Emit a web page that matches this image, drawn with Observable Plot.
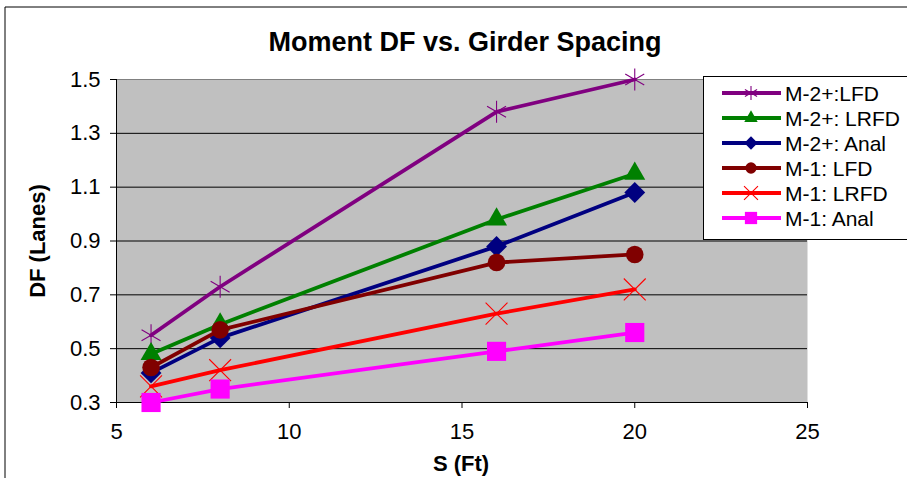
<!DOCTYPE html>
<html>
<head>
<meta charset="utf-8">
<script src="https://cdn.jsdelivr.net/npm/d3@7"></script>
<script src="https://cdn.jsdelivr.net/npm/@observablehq/plot@0.6"></script>
<style>
  html, body { margin: 0; padding: 0; background: #fff; }
  #chart { width: 907px; height: 478px; }
</style>
</head>
<body>
<div id="chart"></div>
<script>
// Girder spacing S (ft) at which each distribution factor was computed
const spacing = [6, 8, 16, 20];

// Moment distribution factors (lanes), one array per method
const seriesNames = ["M-2+:LFD", "M-2+: LRFD", "M-2+: Anal", "M-1: LFD", "M-1: LRFD", "M-1: Anal"];
const m2LFD  = [0.55, 0.73, 1.38, 1.50];
const m2LRFD = [0.48, 0.59, 0.98, 1.15];
const m2Anal = [0.41, 0.54, 0.88, 1.08];
const m1LFD  = [0.43, 0.57, 0.82, 0.85];
const m1LRFD = [0.36, 0.42, 0.63, 0.72];
const m1Anal = [0.30, 0.35, 0.49, 0.56];

// Axis ticks
const xTicks = [5, 10, 15, 20, 25];
const yTicks = [0.3, 0.5, 0.7, 0.9, 1.1, 1.3, 1.5];

// Series styling: colour, marker, marker radius, and whether the marker is stroked only
const styles = [
  {color: "#800080", symbol: "asterisk", r: 10.4, open: true},
  {color: "#008000", symbol: "triangle", r: 7.8, open: false},
  {color: "#000080", symbol: "diamond2", r: 9.4, open: false},
  {color: "#800000", symbol: "circle",   r: 8.8, open: false},
  {color: "#FF0000", symbol: "times",    r: 10,  open: true},
  {color: "#FF00FF", symbol: "square",   r: 10.8, open: false}
];

const values = [m2LFD, m2LRFD, m2Anal, m1LFD, m1LRFD, m1Anal];
const rows = seriesNames.map((name, i) =>
  spacing.map((s, j) => ({series: name, s, df: values[i][j]}))
);

const fontFamily = "'Liberation Sans', Arial, sans-serif";

const seriesMarks = rows.flatMap((data, i) => {
  const st = styles[i];
  return [
    Plot.line(data, {x: "s", y: "df", stroke: st.color, strokeWidth: 3.8}),
    Plot.dot(data, {
      x: "s", y: "df", symbol: () => st.symbol, r: st.r,
      fill: st.open ? "none" : st.color,
      stroke: st.open ? st.color : "none",
      strokeWidth: st.open ? 1.1 : 0
    })
  ];
});

const chart = Plot.plot({
  width: 907,
  height: 478,
  marginLeft: 116,
  marginRight: 100,
  marginTop: 79,
  marginBottom: 76,
  style: {fontFamily, fontSize: "22px", color: "#000", background: "#fff", overflow: "visible"},
  x: {domain: [5, 25]},
  y: {domain: [0.3, 1.5]},
  symbol: {type: "identity"},
  marks: [
    Plot.frame({fill: "#c0c0c0", stroke: null}),
    Plot.ruleY(yTicks.slice(1, -1), {stroke: "#000", strokeWidth: 1}),
    Plot.ruleY([1.5], {stroke: "#808080", strokeWidth: 1}),
    Plot.ruleY([0.3], {stroke: "#000", strokeWidth: 1}),
    Plot.ruleX([5], {stroke: "#000", strokeWidth: 1}),
    Plot.axisY({ticks: yTicks, tickFormat: d3.format(".1f"), tickSize: 6, tickPadding: 10, label: null}),
    Plot.axisX({ticks: xTicks, tickFormat: d3.format("d"), tickSize: 6, tickPadding: 15, label: null}),
    ...seriesMarks
  ]
});

document.getElementById("chart").appendChild(chart);

// Annotations: outer border, title, axis titles and legend
const svg = d3.select(chart);

svg.append("path")
  .attr("d", "M5,478V7H907")
  .attr("fill", "none")
  .attr("stroke", "#000")
  .attr("stroke-width", 1);

svg.append("text")
  .attr("x", 465).attr("y", 42)
  .attr("text-anchor", "middle").attr("dominant-baseline", "central")
  .attr("font-family", fontFamily).attr("font-size", 27).attr("font-weight", "bold")
  .attr("fill", "#000")
  .text("Moment DF vs. Girder Spacing");

svg.append("text")
  .attr("x", 461).attr("y", 463)
  .attr("text-anchor", "middle").attr("dominant-baseline", "central")
  .attr("font-family", fontFamily).attr("font-size", 22).attr("font-weight", "bold")
  .attr("fill", "#000")
  .text("S (Ft)");

svg.append("text")
  .attr("transform", "translate(37,241) rotate(-90)")
  .attr("text-anchor", "middle").attr("dominant-baseline", "central")
  .attr("font-family", fontFamily).attr("font-size", 22).attr("font-weight", "bold")
  .attr("fill", "#000")
  .text("DF (Lanes)");

const legend = svg.append("g");
legend.append("rect")
  .attr("x", 703.5).attr("y", 76.5).attr("width", 220).attr("height", 163)
  .attr("fill", "#fff").attr("stroke", "#000").attr("stroke-width", 1);

const symbolTypes = {
  asterisk: d3.symbolAsterisk, triangle: d3.symbolTriangle, diamond2: d3.symbolDiamond2,
  circle: d3.symbolCircle, times: d3.symbolTimes, square: d3.symbolSquare
};
const legendScale = 0.64;

seriesNames.forEach((name, i) => {
  const st = styles[i];
  const y = 93 + i * 25;
  const g = legend.append("g");
  g.append("line")
    .attr("x1", 722).attr("x2", 781).attr("y1", y).attr("y2", y)
    .attr("stroke", st.color).attr("stroke-width", 3.8);
  const rr = st.r * legendScale;
  g.append("path")
    .attr("transform", `translate(751,${y})`)
    .attr("d", d3.symbol(symbolTypes[st.symbol], Math.PI * rr * rr)())
    .attr("fill", st.open ? "none" : st.color)
    .attr("stroke", st.open ? st.color : "none")
    .attr("stroke-width", st.open ? 1.1 : 0);
  g.append("text")
    .attr("x", 785).attr("y", y)
    .attr("text-anchor", "start")
    .attr("dominant-baseline", "central")
    .attr("font-family", fontFamily).attr("font-size", 21)
    .attr("fill", "#000")
    .text(name);
});
</script>
</body>
</html>
